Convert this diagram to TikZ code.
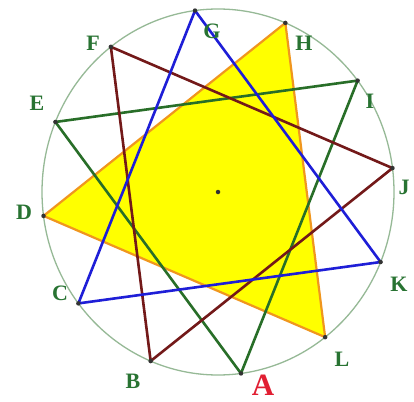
\documentclass[tikz,border=0pt]{standalone}
\usepackage{fontspec}
\setmainfont{Liberation Serif}
\begin{document}
\begin{tikzpicture}[x=1pt,y=-1pt,
  lab/.style={text=labgreen,font=\bfseries\fontsize{22}{24}\selectfont,inner sep=0pt},
  tri/.style={line width=2.6pt,line join=round,line cap=round},
  vdot/.style={circle,fill=black!80,inner sep=0pt,minimum size=4.5pt}]
\definecolor{labgreen}{RGB}{40,115,50}
\definecolor{cgreen}{RGB}{40,110,40}
\definecolor{cred}{RGB}{115,25,25}
\definecolor{cblue}{RGB}{30,30,215}
\definecolor{corange}{RGB}{240,150,30}
\definecolor{ccircle}{RGB}{150,185,150}
\definecolor{cyellow}{RGB}{255,255,0}
\definecolor{cA}{RGB}{225,30,50}
\useasboundingbox (0,0) rectangle (414,401);
\fill[white] (0,0) rectangle (414,401);
\coordinate (O) at (218,192);
\foreach \n/\a in {A/-82.5,B/-112.5,C/-142.5,D/-172.5,E/157.5,F/127.5,G/97.5,H/67.5,I/37.5,J/7.5,K/-22.5,L/-52.5}{
  \coordinate (\n) at ({218+176*cos(\a)},{192-183*sin(\a)});
}
\draw[ccircle,line width=1.3pt] (O) ellipse [x radius=176, y radius=-183];
\fill[cyellow] (D) -- (H) -- (L) -- cycle;
\draw[corange,line width=2.2pt,line join=round] (D) -- (H) -- (L) -- cycle;
\draw[tri,cgreen] (E) -- (I) -- (A) -- cycle;
\draw[tri,cred] (F) -- (J) -- (B) -- cycle;
\draw[tri,cblue] (G) -- (K) -- (C) -- cycle;
\foreach \n in {A,B,C,D,E,F,G,H,I,J,K,L}{ \node[vdot] at (\n) {}; }
\node[vdot] (dotO) at (O) {};
\node[lab] (lB) at (133,381) {B};
\node[lab] (lC) at (60,293) {C};
\node[lab] (lD) at (24,212) {D};
\node[lab] (lE) at (37,103) {E};
\node[lab] (lF) at (93,43) {F};
\node[lab] (lG) at (212,31) {G};
\node[lab] (lH) at (304,43) {H};
\node[lab] (lI) at (370,101) {I};
\node[lab] (lJ) at (404,187) {J};
\node[lab] (lK) at (399,284) {K};
\node[lab] (lL) at (342,359) {L};
\node[lab,text=cA,font=\bfseries\fontsize{31}{33}\selectfont] (lA) at (263,385) {A};
\end{tikzpicture}
\end{document}
